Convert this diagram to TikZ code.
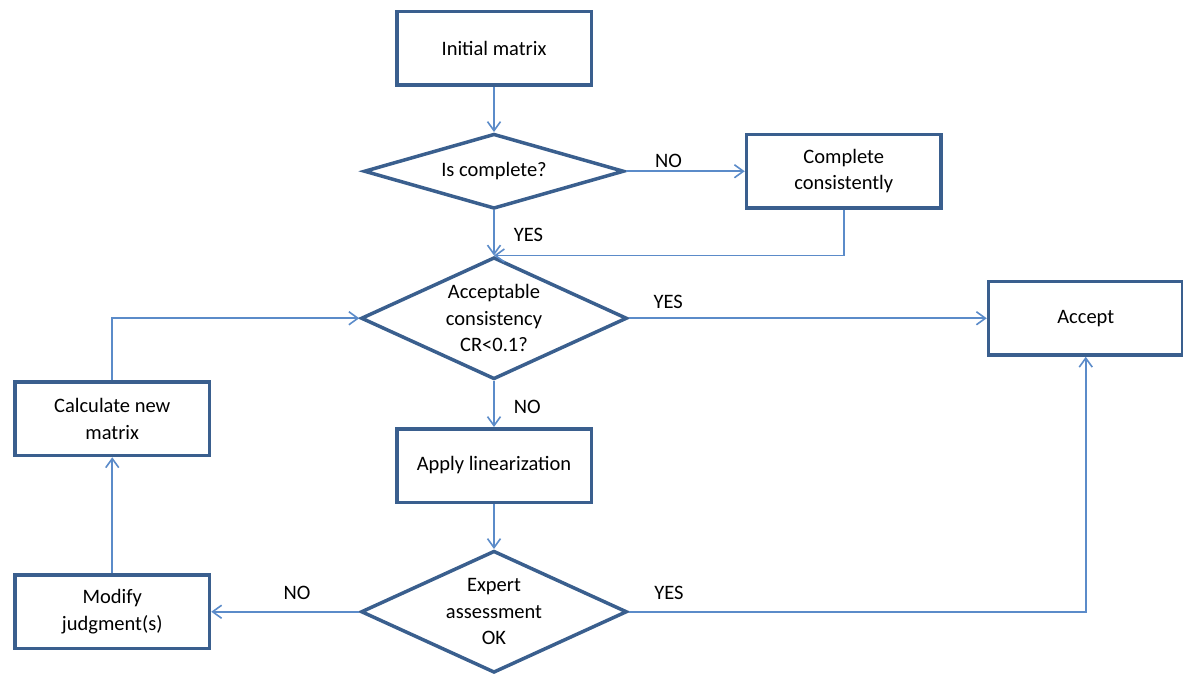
\documentclass[tikz,border=0pt]{standalone}
\usepackage{fontspec}
\setmainfont{Carlito}
\usepackage{tikz}
\usetikzlibrary{shapes.geometric, arrows.meta, positioning}
\definecolor{frame}{HTML}{3A5F8E}
\definecolor{flow}{HTML}{5B8BC9}

\begin{document}
\begin{tikzpicture}[
    box/.style={rectangle, draw=frame, line width=3.5pt, minimum width=194.5pt, minimum height=73.5pt, align=center, font=\fontsize{20.5}{26.5}\selectfont},
    decision/.style={diamond, draw=frame, line width=3.5pt, shape aspect=2.1, inner sep=0pt, minimum width=260pt, minimum height=75pt, align=center, font=\fontsize{20.5}{26.5}\selectfont},
    tall/.style={minimum width=266pt, minimum height=122pt},
    arrow/.style={-{Straight Barb[length=9pt,width=13pt]}, line width=1.6pt, draw=flow},
    lbl/.style={inner sep=0pt, font=\fontsize{20.5}{24}\selectfont}
]
\useasboundingbox (0pt,0pt) rectangle (1183pt,-679pt);
\node[box] (init) at (494pt,-48.5pt) {Initial matrix};
\node[decision, below=45pt of init] (iscomplete) {Is complete?};
\node[box, right=119pt of iscomplete] (fillin) {Complete\\consistently};
\node[decision, tall, below=45pt of iscomplete] (consist) {Acceptable\\consistency\\CR<0.1?};
\node[box, right=356pt of consist, xshift=2pt] (accept) {Accept};
\node[box, below=46pt of consist] (linear) {Apply linearization};
\node[decision, tall, below=45pt of linear] (expert) {Expert\\assessment\\OK};
\node[box, left=148pt of expert] (modify) {Modify\\judgment(s)};
\node[box, above=116pt of modify] (newmat) {Calculate new\\matrix};
\draw[arrow] (init) -- (iscomplete);
\draw[arrow] (iscomplete) -- node[lbl, above=3pt, pos=0.36] {NO} (fillin);
\draw[arrow] (iscomplete) -- node[lbl, right=19pt, pos=0.55] {YES} (consist);
\draw[arrow] (fillin) |- (consist.north);
\draw[arrow] (consist) -- node[lbl, above=9pt, pos=0.11] {YES} (accept);
\draw[arrow] (consist) -- node[lbl, right=19pt, pos=0.57] {NO} (linear);
\draw[arrow] (linear) -- (expert);
\draw[arrow] (expert) -| node[lbl, above=11pt, pos=0.044] {YES} (accept);
\draw[arrow] (expert) -- node[lbl, above=11pt, pos=0.42] {NO} (modify);
\draw[arrow] (modify) -- (newmat);
\draw[arrow] (newmat) |- (consist);
\end{tikzpicture}
\end{document}
